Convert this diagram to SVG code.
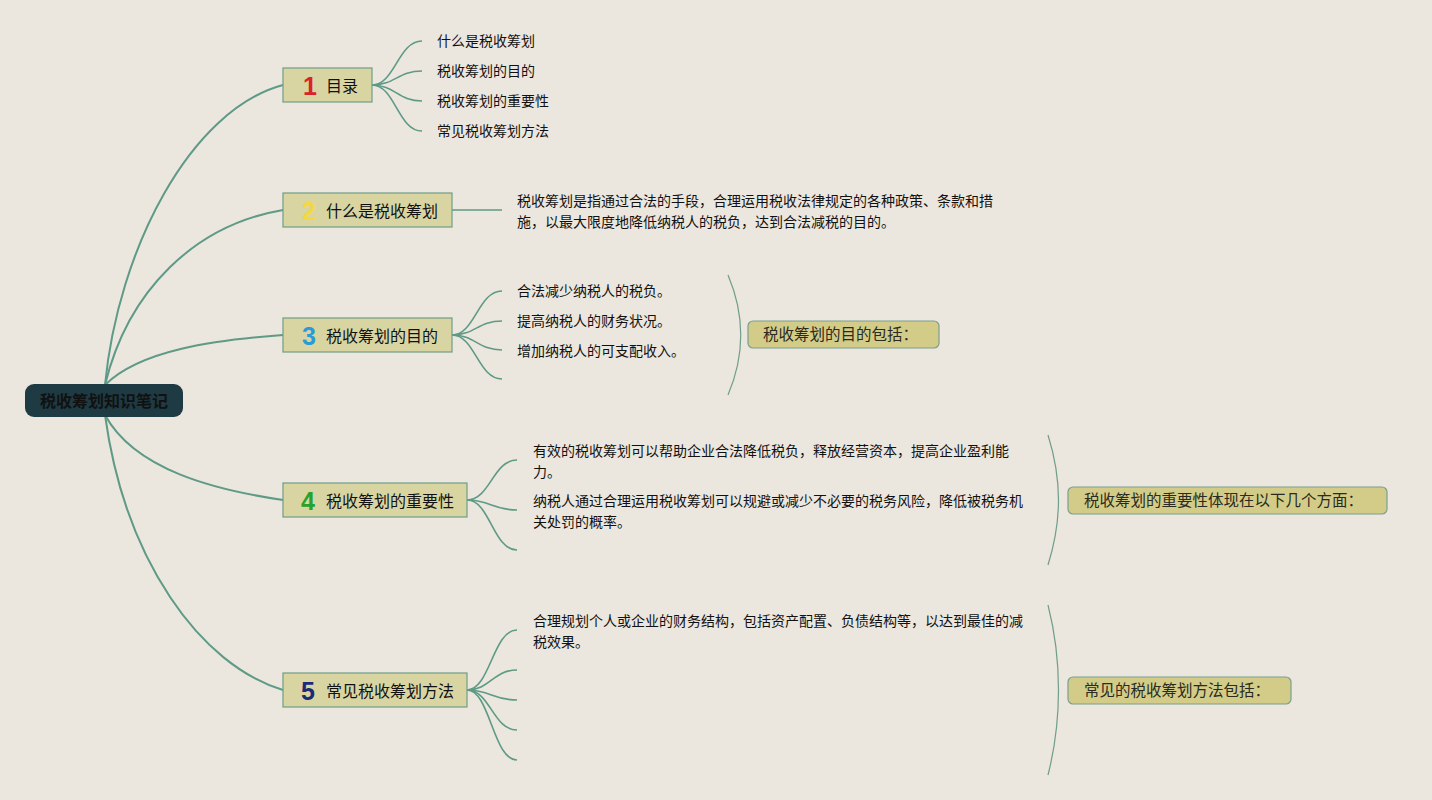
<svg xmlns="http://www.w3.org/2000/svg" width="1432" height="800" viewBox="0 0 1432 800">
<style>
.bg{fill:#ebe6de}
.main{fill:none;stroke:#5e9a86;stroke-width:2}
.sub{fill:none;stroke:#5e9a86;stroke-width:1.6}
.brace{fill:none;stroke:#6f9e8a;stroke-width:1.2}
.node{fill:#d8d5a3;stroke:#6f9e86;stroke-width:1.2}
.sum{fill:#d3cc88;stroke:#7aa08c;stroke-width:1.2}
.t{font-family:"Noto Sans CJK SC","Noto Sans",sans-serif;fill:#111}
.title{font-size:16px}
.child{font-size:14px}
.sumt{font-size:15.5px;fill:#2a2a20}
.num{font-family:"Liberation Sans","DejaVu Sans",sans-serif;font-weight:bold;font-size:25px}
</style>
<rect class="bg" x="0" y="0" width="1432" height="800"/>
<g id="connectors">
<path class="main" d="M105,385 C118,250 190,110 283,85"/>
<path class="main" d="M105,385 C128,290 195,225 283,210"/>
<path class="main" d="M105,385 C140,350 215,340 283,335"/>
<path class="main" d="M105,415 C135,470 215,490 283,500"/>
<path class="main" d="M105,415 C125,560 200,665 283,690"/>
<path class="sub" d="M372,85 C395,85 398,41 422,41"/>
<path class="sub" d="M372,85 C395,85 398,71 422,71"/>
<path class="sub" d="M372,85 C395,85 398,101 422,101"/>
<path class="sub" d="M372,85 C395,85 398,131 422,131"/>
<path class="sub" d="M452,210 L502,210"/>
<path class="sub" d="M452,335 C475,335 478,291 502,291"/>
<path class="sub" d="M452,335 C475,335 478,321 502,321"/>
<path class="sub" d="M452,335 C475,335 478,350 502,350"/>
<path class="sub" d="M452,335 C475,335 478,379 502,379"/>
<path class="sub" d="M467,500 C490,500 493,460 517,460"/>
<path class="sub" d="M467,500 C490,500 493,510 517,510"/>
<path class="sub" d="M467,500 C490,500 493,550 517,550"/>
<path class="sub" d="M467,690 C490,690 493,630 517,630"/>
<path class="sub" d="M467,690 C490,690 493,670 517,670"/>
<path class="sub" d="M467,690 C490,690 493,700 517,700"/>
<path class="sub" d="M467,690 C490,690 493,730 517,730"/>
<path class="sub" d="M467,690 C490,690 493,760 517,760"/>
<path class="brace" d="M728,275 C745,315 745,355 728,395"/>
<path class="brace" d="M1048,435 C1062,480 1062,520 1048,565"/>
<path class="brace" d="M1048,605 C1062,660 1062,720 1048,775"/>
</g>
<g id="root">
<rect x="25" y="384" width="158" height="33" rx="9" fill="#1e3a42"/>
<text class="t" x="104" y="407" text-anchor="middle" font-size="16" font-weight="bold" fill="#0a0a0a">税收筹划知识笔记</text>
</g>
<g id="n1">
<rect class="node" x="283" y="68" width="89" height="34"/>
<text class="num" x="303" y="95" fill="#d8232a">1</text>
<text class="t title" x="326" y="92">目录</text>
</g>
<g id="n1c">
<text class="t child" x="437" y="46">什么是税收筹划</text>
<text class="t child" x="437" y="76">税收筹划的目的</text>
<text class="t child" x="437" y="106">税收筹划的重要性</text>
<text class="t child" x="437" y="136">常见税收筹划方法</text>
</g>
<g id="n2">
<rect class="node" x="283" y="193" width="169" height="34"/>
<text class="num" x="302" y="220" fill="#f4d83e">2</text>
<text class="t title" x="326" y="217">什么是税收筹划</text>
</g>
<g id="n2c">
<text class="t child" x="517" y="206">税收筹划是指通过合法的手段，合理运用税收法律规定的各种政策、条款和措</text>
<text class="t child" x="517" y="227">施，以最大限度地降低纳税人的税负，达到合法减税的目的。</text>
</g>
<g id="n3">
<rect class="node" x="283" y="318" width="169" height="34"/>
<text class="num" x="302" y="345" fill="#2b9ad8">3</text>
<text class="t title" x="326" y="342">税收筹划的目的</text>
</g>
<g id="n3c">
<text class="t child" x="517" y="296">合法减少纳税人的税负。</text>
<text class="t child" x="517" y="326">提高纳税人的财务状况。</text>
<text class="t child" x="517" y="356">增加纳税人的可支配收入。</text>
</g>
<g id="s3">
<rect class="sum" x="748" y="321" width="191" height="27" rx="5"/>
<text class="t sumt" x="763" y="340">税收筹划的目的包括：</text>
</g>
<g id="n4">
<rect class="node" x="283" y="483" width="184" height="34"/>
<text class="num" x="301" y="510" fill="#27a22c">4</text>
<text class="t title" x="326" y="507">税收筹划的重要性</text>
</g>
<g id="n4c">
<text class="t child" x="533" y="456">有效的税收筹划可以帮助企业合法降低税负，释放经营资本，提高企业盈利能</text>
<text class="t child" x="533" y="477">力。</text>
<text class="t child" x="533" y="506">纳税人通过合理运用税收筹划可以规避或减少不必要的税务风险，降低被税务机</text>
<text class="t child" x="533" y="527">关处罚的概率。</text>
</g>
<g id="s4">
<rect class="sum" x="1068" y="487" width="319" height="27" rx="5"/>
<text class="t sumt" x="1084" y="506">税收筹划的重要性体现在以下几个方面：</text>
</g>
<g id="n5">
<rect class="node" x="283" y="673" width="184" height="34"/>
<text class="num" x="301" y="700" fill="#1c2a78">5</text>
<text class="t title" x="326" y="697">常见税收筹划方法</text>
</g>
<g id="n5c">
<text class="t child" x="533" y="626">合理规划个人或企业的财务结构，包括资产配置、负债结构等，以达到最佳的减</text>
<text class="t child" x="533" y="647">税效果。</text>
</g>
<g id="s5">
<rect class="sum" x="1068" y="677" width="223" height="27" rx="5"/>
<text class="t sumt" x="1084" y="696">常见的税收筹划方法包括：</text>
</g>
</svg>
